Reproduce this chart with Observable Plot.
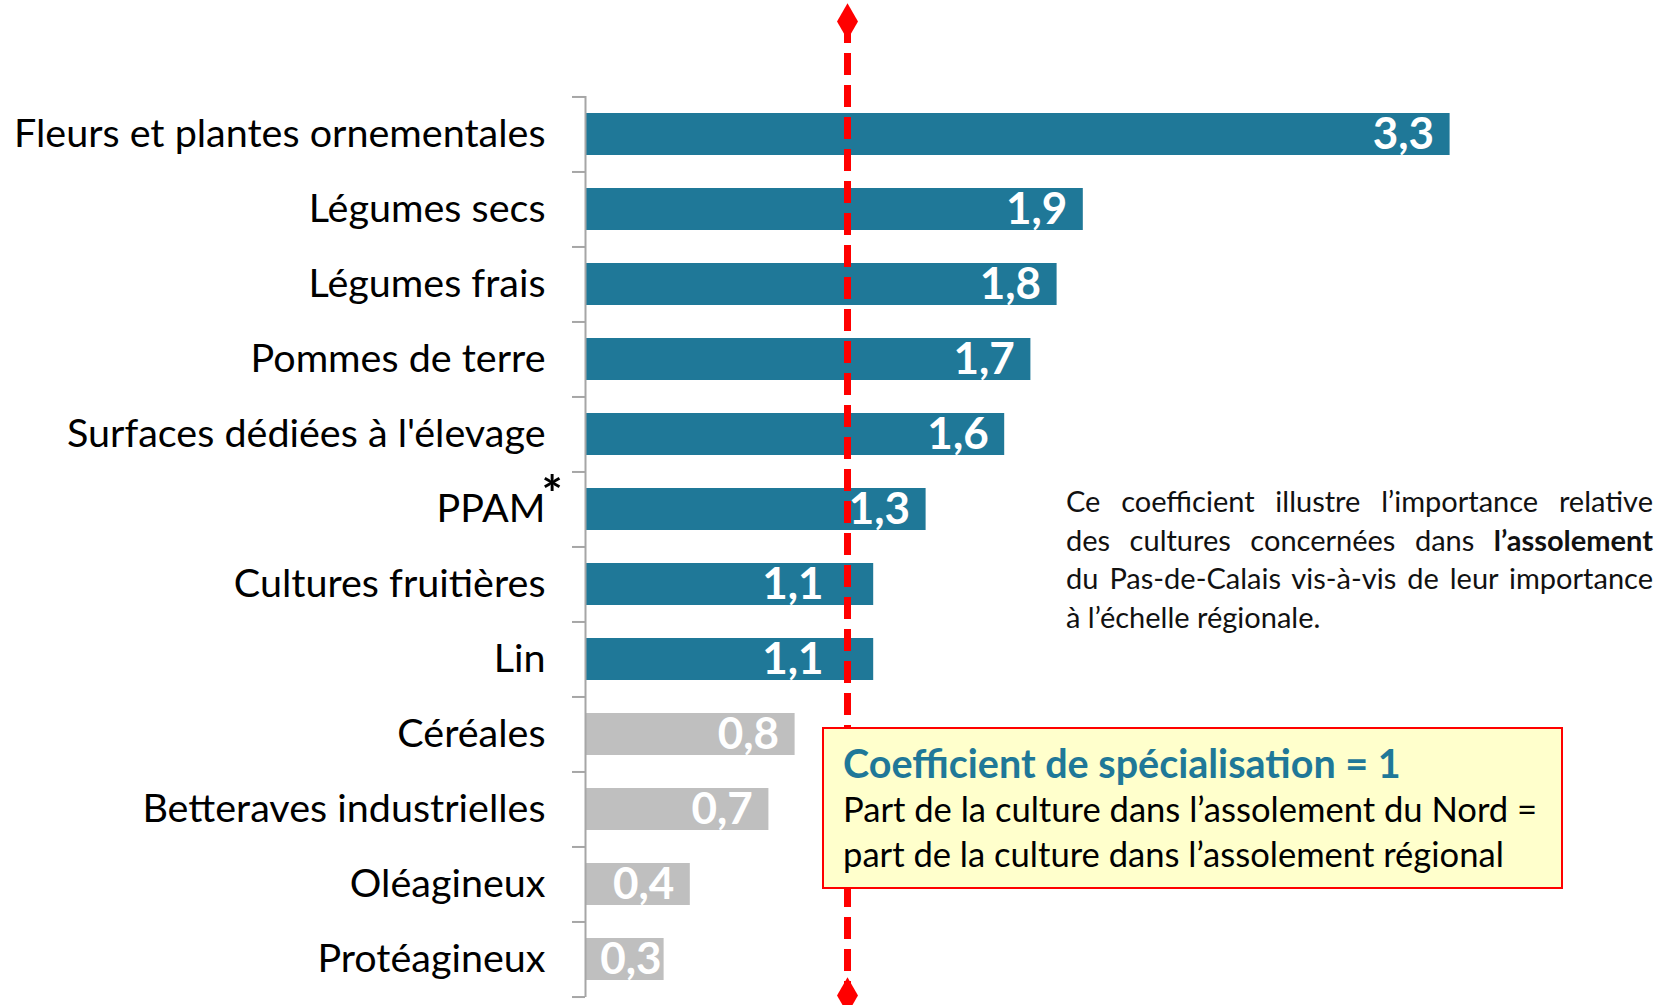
<!DOCTYPE html>
<html>
<head>
<meta charset="utf-8">
<script src="https://cdn.jsdelivr.net/npm/d3@7"></script>
<script src="https://cdn.jsdelivr.net/npm/@observablehq/plot@0.6"></script>
<style>
  body { margin: 0; background: #ffffff; }
  #wrap { position: relative; width: 1659px; height: 1005px; overflow: hidden; font-family: Lato, "Noto Sans", sans-serif; }
  #chart svg { display: block; }
  #note { position: absolute; left: 1066px; top: 482px; width: 587px; font-size: 29px; line-height: 38.6px; color: #111; }
  #note div { white-space: nowrap; text-align: justify; text-align-last: justify; }
  #note div.last { text-align-last: left; }
  #box { position: absolute; left: 822px; top: 727px; width: 741px; height: 162px; box-sizing: border-box;
         border: 2px solid #ff0000; background: #FFFFCC; padding: 10px 0 0 19px; color: #000; white-space: nowrap; }
  #box .t { font-weight: bold; color: #1F7898; font-size: 39.5px; line-height: 47px; }
  #box .l { font-size: 34.6px; line-height: 45px; }
</style>
</head>
<body>
<div id="wrap">
  <div id="chart"></div>
  <div id="note">
    <div>Ce coefficient illustre l’importance relative</div>
    <div>des cultures concernées dans <b>l’assolement</b></div>
    <div>du Pas-de-Calais vis-à-vis de leur importance</div>
    <div class="last">à l’échelle régionale.</div>
  </div>
  <div id="box">
    <div class="t">Coefficient de spécialisation = 1</div>
    <div class="l">Part de la culture dans l’assolement du Nord =</div>
    <div class="l">part de la culture dans l’assolement régional</div>
  </div>
</div>
<script>
// ---- data ----
const categories = [
  "Fleurs et plantes ornementales",
  "Légumes secs",
  "Légumes frais",
  "Pommes de terre",
  "Surfaces dédiées à l'élevage",
  "PPAM",
  "Cultures fruitières",
  "Lin",
  "Céréales",
  "Betteraves industrielles",
  "Oléagineux",
  "Protéagineux"
];
const values = [3.3, 1.9, 1.8, 1.7, 1.6, 1.3, 1.1, 1.1, 0.8, 0.7, 0.4, 0.3];
const referenceValue = [1];
const footnoted = ["PPAM"];

// ---- layout ----
const W = 1659, H = 1005;
const mL = 585, mR = 26, mT = 96, mB = 8;
const xMax = 4;
const pxPerUnit = (W - mL - mR) / xMax;
const step = (H - mT - mB) / categories.length;

const teal = "#1F7898";
const grey = "#BFBFBF";
const axisGrey = "#A6A6A6";

const data = categories.map((c, i) => ({cat: c, value: values[i]}));
const fmt = v => d3.format(".1f")(v).replace(".", ",");

// label placement: inside the bar end; keep clear of the reference line; keep inside short bars
const labelW = 60, gap = 16;
function labelX(v) {
  let end = v * pxPerUnit - gap;
  end = Math.max(end, gap + labelW);
  const ref = referenceValue[0] * pxPerUnit;
  if (end > ref - 4 && end - labelW < ref - 2) end = ref - 24;
  return end / pxPerUnit;
}

const chart = Plot.plot({
  width: W, height: H,
  marginLeft: mL, marginRight: mR, marginTop: mT, marginBottom: mB,
  style: {fontFamily: "Lato, 'Noto Sans', sans-serif", background: "transparent"},
  x: {domain: [0, xMax], axis: null},
  y: {domain: categories, paddingInner: 0.44, paddingOuter: 0.22, axis: null},
  marks: [
    Plot.barX(data.filter(d => d.value >= 1), {x: "value", y: "cat", fill: teal}),
    Plot.barX(data.filter(d => d.value < 1), {x: "value", y: "cat", fill: grey}),
    // axis ticks at band boundaries
    Plot.ruleY(categories, {y: d => d, x1: -13 / pxPerUnit, x2: 0, dy: -step / 2, stroke: axisGrey, strokeWidth: 2}),
    Plot.ruleY(categories.slice(-1), {y: d => d, x1: -13 / pxPerUnit, x2: 0, dy: step / 2, stroke: axisGrey, strokeWidth: 2}),
    Plot.ruleX([0], {stroke: axisGrey, strokeWidth: 2}),
    // reference line
    Plot.ruleX(referenceValue, {x: d => d, stroke: "#FF0000", strokeWidth: 7, strokeDasharray: "22,10", insetTop: -75, insetBottom: 2}),
    Plot.dot(referenceValue, {x: d => d, frameAnchor: "top", dy: -75, symbol: "diamond", r: 11, fill: "#FF0000"}),
    Plot.dot(referenceValue, {x: d => d, frameAnchor: "bottom", dy: -2, symbol: "diamond", r: 11, fill: "#FF0000"}),
    // category labels
    Plot.text(categories, {x: 0, y: d => d, text: d => d, textAnchor: "end", dx: -40, fontSize: 39.5, fill: "#000"}),
    Plot.text(footnoted, {x: 0, y: d => d, text: () => "*", textAnchor: "start", dx: -44, dy: -14, fontSize: 50, fontWeight: "bold", fill: "#000"}),
    // value labels
    Plot.text(data, {x: d => labelX(d.value), y: "cat", text: d => fmt(d.value), textAnchor: "end", fontSize: 44, fontWeight: "bold", fill: "#ffffff"})
  ]
});
document.getElementById("chart").append(chart);
</script>
</body>
</html>
